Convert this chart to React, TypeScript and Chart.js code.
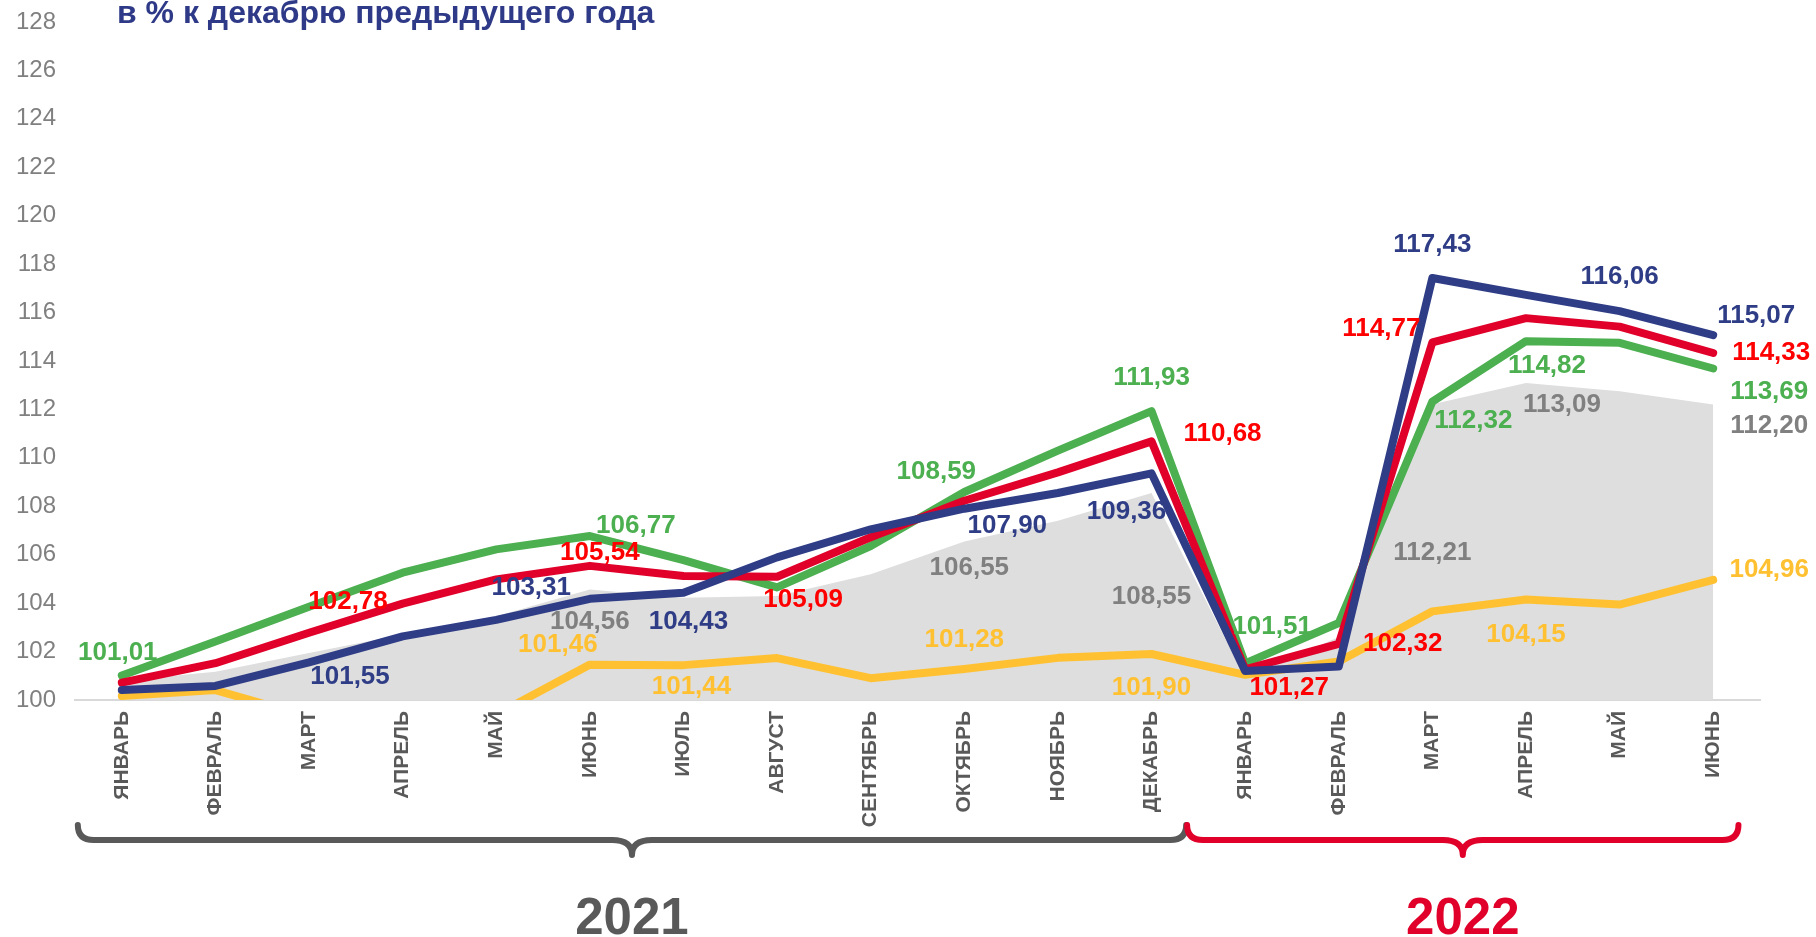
import React, { useEffect, useRef } from 'react';
import { Chart, registerables } from 'chart.js';

Chart.register(...registerables);

const months = [
  'ЯНВАРЬ', 'ФЕВРАЛЬ', 'МАРТ', 'АПРЕЛЬ', 'МАЙ', 'ИЮНЬ', 'ИЮЛЬ', 'АВГУСТ', 'СЕНТЯБРЬ',
  'ОКТЯБРЬ', 'НОЯБРЬ', 'ДЕКАБРЬ', 'ЯНВАРЬ', 'ФЕВРАЛЬ', 'МАРТ', 'АПРЕЛЬ', 'МАЙ', 'ИЮНЬ',
];

const greyValues = [100.8, 101.17, 101.94, 102.7, 103.46, 104.56, 104.22, 104.29, 105.19, 106.55, 107.4, 108.55, 100.9, 102.6, 112.21, 113.09, 112.75, 112.2];
const yellowValues = [100.17, 100.41, 99.3, 99.2, 99.4, 101.46, 101.44, 101.73, 100.9, 101.28, 101.74, 101.9, 101.04, 101.59, 103.66, 104.15, 103.94, 104.96];
const greenValues = [101.01, 102.42, 103.85, 105.26, 106.22, 106.77, 105.78, 104.65, 106.36, 108.59, 110.3, 111.93, 101.51, 103.18, 112.32, 114.82, 114.75, 113.69];
const redValues = [100.72, 101.52, 102.78, 103.98, 104.98, 105.54, 105.12, 105.09, 106.72, 108.23, 109.4, 110.68, 101.27, 102.32, 114.77, 115.77, 115.42, 114.33];
const blueValues = [100.41, 100.58, 101.55, 102.63, 103.31, 104.18, 104.43, 105.89, 107.05, 107.9, 108.55, 109.36, 101.2, 101.38, 117.43, 116.73, 116.06, 115.07];

const yMin = 100;
const yMax = 128;
const yStep = 2;

const titleText = 'в % к декабрю предыдущего года';
const yearNames = ['2021', '2022'];
const yearRanges = [[0, 11], [12, 17]];

// [point index, dx, dy] — label placement offsets
const greenLabelSpots = [[0, -4, -23], [5, 46, -10], [9, -28, -20], [11, 0, -33], [12, 27, -37], [14, 41, 19], [15, 21, 25], [17, 56, 23]];
const redLabelSpots = [[2, 39, -31], [5, 10, -13], [7, 26, 23], [11, 71, -8], [12, 44, 19], [13, 64, 0], [14, -51, -14], [17, 58, 0]];
const blueLabelSpots = [[2, 41, 14], [4, 35, -32], [6, 5, 29], [9, 43, 17], [11, -25, 38], [14, 0, -33], [16, 0, -34], [17, 43, -19]];
const greyLabelSpots = [[5, 0, 32], [9, 5, 26], [11, 0, 104], [14, 0, 148], [15, 36, 22], [17, 56, 21]];
const yellowLabelSpots = [[5, -32, -20], [6, 8, 22], [9, 0, -29], [11, 0, 34], [15, 0, 35], [17, 56, -10]];

const FONT = "'Liberation Sans', Arial, Helvetica, sans-serif";

const fmt = (v: number) => v.toFixed(2).replace('.', ',');

const valueLabelPlugin = {
  id: 'valueLabels',
  afterDatasetsDraw(chart: any) {
    const ctx = chart.ctx;
    ctx.save();
    ctx.font = `bold 26px ${FONT}`;
    ctx.textAlign = 'center';
    ctx.textBaseline = 'middle';
    chart.data.datasets.forEach((ds: any, di: number) => {
      const meta = chart.getDatasetMeta(di);
      (ds.labelSpots || []).forEach((s: number[]) => {
        const pt = meta.data[s[0]];
        if (!pt) return;
        ctx.fillStyle = ds.labelColor;
        ctx.fillText(fmt(ds.data[s[0]]), pt.x + s[1], pt.y + s[2]);
      });
    });
    ctx.restore();
  },
};

const decorPlugin = {
  id: 'decor',
  afterDraw(chart: any) {
    const ctx = chart.ctx;
    const xs = chart.scales.x;
    const bottom = chart.chartArea.bottom;
    ctx.save();
    // title
    ctx.font = `bold 32px ${FONT}`;
    ctx.fillStyle = '#2e3a87';
    ctx.textAlign = 'left';
    ctx.textBaseline = 'alphabetic';
    ctx.fillText(titleText, 117, 23);

    const step = xs.getPixelForValue(1) - xs.getPixelForValue(0);
    const colors = ['#595959', '#e0002a'];
    yearRanges.forEach((r, gi) => {
      const first = xs.getPixelForValue(r[0]);
      const last = xs.getPixelForValue(r[1]);
      const left = gi === 0 ? first - 0.47 * step : first - 0.62 * step;
      const right = gi === yearRanges.length - 1 ? last + 0.27 * step : last + 0.37 * step;
      const top = bottom + 125;
      const mid = bottom + 140;
      const tip = bottom + 155;
      const cx = (left + right) / 2;
      const rr = 16;
      ctx.strokeStyle = colors[gi];
      ctx.lineWidth = 6;
      ctx.lineCap = 'round';
      ctx.lineJoin = 'round';
      ctx.beginPath();
      ctx.moveTo(left, top);
      ctx.quadraticCurveTo(left, mid, left + rr, mid);
      ctx.lineTo(cx - 20, mid);
      ctx.quadraticCurveTo(cx, mid, cx, tip);
      ctx.quadraticCurveTo(cx, mid, cx + 20, mid);
      ctx.lineTo(right - rr, mid);
      ctx.quadraticCurveTo(right, mid, right, top);
      ctx.stroke();

      ctx.font = `bold 51px ${FONT}`;
      ctx.fillStyle = colors[gi];
      ctx.textAlign = 'center';
      ctx.textBaseline = 'alphabetic';
      ctx.fillText(yearNames[gi], cx, bottom + 234);
    });
    ctx.restore();
  },
};

export default function App() {
  const ref = useRef<HTMLCanvasElement | null>(null);

  useEffect(() => {
    document.body.style.margin = '0';
    document.body.style.overflow = 'hidden';
    const canvas = ref.current;
    if (!canvas) return;
    const chart = new Chart(canvas, {
      type: 'line',
      data: {
        labels: months,
        datasets: [
          { label: 'blue', data: blueValues, borderColor: '#2f3d86', borderWidth: 8, pointRadius: 0, fill: false, order: 0, labelColor: '#2f3d86', labelSpots: blueLabelSpots } as any,
          { label: 'red', data: redValues, borderColor: '#e0002a', borderWidth: 8, pointRadius: 0, fill: false, order: 1, labelColor: '#ff0000', labelSpots: redLabelSpots } as any,
          { label: 'green', data: greenValues, borderColor: '#4caf50', borderWidth: 8, pointRadius: 0, fill: false, order: 2, labelColor: '#4caf50', labelSpots: greenLabelSpots } as any,
          { label: 'yellow', data: yellowValues, borderColor: '#ffc131', borderWidth: 8, pointRadius: 0, fill: false, order: 3, labelColor: '#ffc131', labelSpots: yellowLabelSpots } as any,
          { label: 'grey', data: greyValues, borderColor: 'rgba(0,0,0,0)', borderWidth: 0, backgroundColor: '#dedede', pointRadius: 0, fill: 'start', order: 4, labelColor: '#808080', labelSpots: greyLabelSpots } as any,
        ],
      },
      options: {
        responsive: false,
        animation: false,
        devicePixelRatio: 1,
        events: [],
        layout: { padding: { top: 22, right: 56, left: 0, bottom: 0 } },
        plugins: {
          legend: { display: false },
          tooltip: { enabled: false },
          title: { display: false },
        },
        elements: { line: { tension: 0, borderJoinStyle: 'round', borderCapStyle: 'round' } },
        scales: {
          x: {
            offset: true,
            grid: { display: false, drawTicks: false },
            border: { display: true, color: '#d9d9d9', width: 2 },
            ticks: {
              autoSkip: false,
              maxRotation: 90,
              minRotation: 90,
              padding: 11,
              color: '#595959',
              font: { family: FONT, size: 21, weight: 'bold' },
            },
            afterFit: (s: any) => { s.height = 237; },
          },
          y: {
            min: yMin,
            max: yMax,
            grid: { display: false, drawTicks: false },
            border: { display: false },
            ticks: {
              stepSize: yStep,
              padding: 19,
              color: '#808080',
              font: { family: FONT, size: 24 },
            },
            afterFit: (s: any) => {
              s.width = 75;
              s.paddingTop = 0;
              s.paddingBottom = 0;
            },
          },
        },
      } as any,
      plugins: [valueLabelPlugin, decorPlugin],
    });
    return () => chart.destroy();
  }, []);

  return (
    <div style={{ width: 1816, height: 937, position: 'relative', background: '#fff' }}>
      <canvas ref={ref} width={1816} height={937} style={{ display: 'block' }} />
    </div>
  );
}
